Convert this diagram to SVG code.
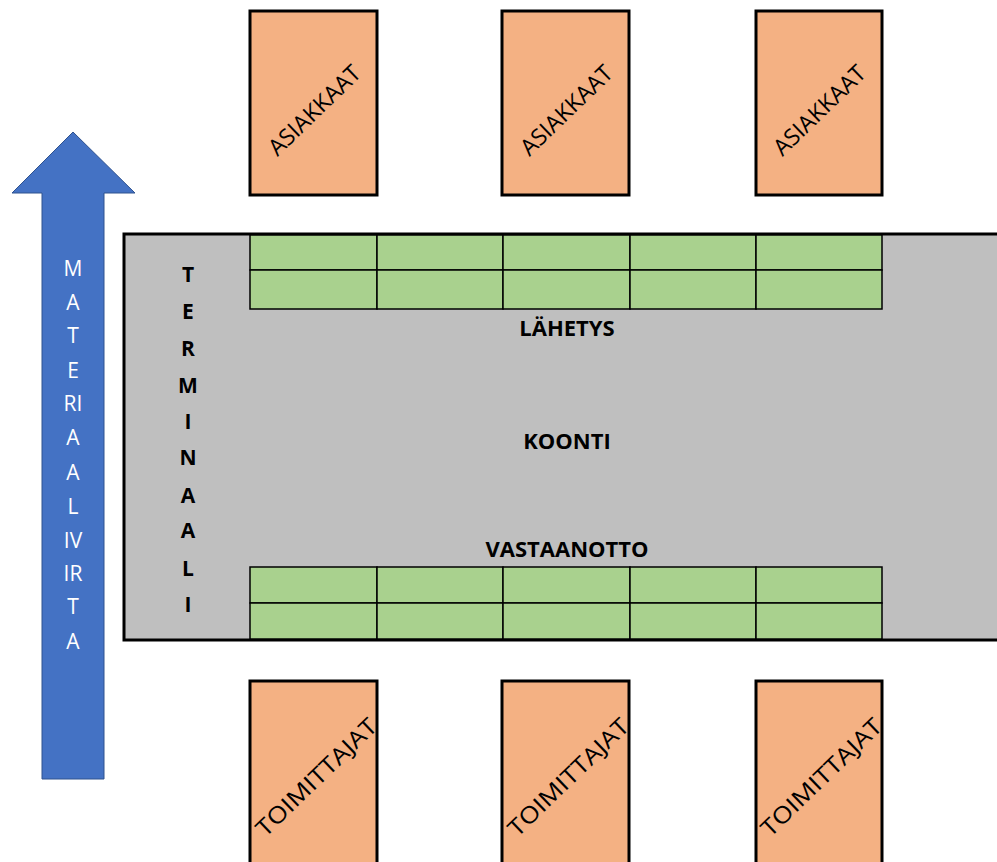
<svg xmlns="http://www.w3.org/2000/svg" width="997" height="862" viewBox="0 0 997 862">
<style>
.box{fill:#F4B183;stroke:#000;stroke-width:3}
.cell{fill:#A9D18E;stroke:#000;stroke-width:1.5}
.rot{font-family:"Open Sans","Liberation Sans",sans-serif;font-size:23px;fill:#000;text-anchor:middle}
.bold{font-family:"Open Sans","Liberation Sans",sans-serif;font-weight:bold;font-size:21px;fill:#000;text-anchor:middle}
.lbl{font-size:22px}
.wt{font-family:"Open Sans","Liberation Sans",sans-serif;font-size:21px;fill:#fff;text-anchor:middle}
</style>
<rect width="997" height="862" fill="#fff"/>
<g id="arrow">
<polygon points="73,132 135,193 104,193 104,779 42,779 42,193 12,193" fill="#4472C4" stroke="#2F528F" stroke-width="1"/>
<text class="wt" x="73" y="276">M</text>
<text class="wt" x="73" y="310">A</text>
<text class="wt" x="73" y="343">T</text>
<text class="wt" x="73" y="378">E</text>
<text class="wt" x="73" y="411">RI</text>
<text class="wt" x="73" y="445">A</text>
<text class="wt" x="73" y="480">A</text>
<text class="wt" x="73" y="514">L</text>
<text class="wt" x="73" y="548">IV</text>
<text class="wt" x="73" y="581">IR</text>
<text class="wt" x="73" y="614">T</text>
<text class="wt" x="73" y="649">A</text>
</g>
<g id="terminal">
<rect x="124" y="234" width="880" height="406" fill="#BFBFBF" stroke="#000" stroke-width="3"/>
<text class="bold" x="188" y="282">T</text>
<text class="bold" x="188" y="319">E</text>
<text class="bold" x="188" y="356">R</text>
<text class="bold" x="188" y="393">M</text>
<text class="bold" x="188" y="429">I</text>
<text class="bold" x="188" y="465">N</text>
<text class="bold" x="188" y="503">A</text>
<text class="bold" x="188" y="538">A</text>
<text class="bold" x="188" y="576">L</text>
<text class="bold" x="188" y="612">I</text>
<text class="bold lbl" x="567" y="336">LÄHETYS</text>
<text class="bold lbl" x="567" y="449">KOONTI</text>
<text class="bold lbl" x="567" y="557">VASTAANOTTO</text>
</g>
<g id="lahetys-grid">
<rect class="cell" x="250" y="235" width="127" height="35"/>
<rect class="cell" x="377" y="235" width="126" height="35"/>
<rect class="cell" x="503" y="235" width="127" height="35"/>
<rect class="cell" x="630" y="235" width="126" height="35"/>
<rect class="cell" x="756" y="235" width="126" height="35"/>
<rect class="cell" x="250" y="270" width="127" height="39"/>
<rect class="cell" x="377" y="270" width="126" height="39"/>
<rect class="cell" x="503" y="270" width="127" height="39"/>
<rect class="cell" x="630" y="270" width="126" height="39"/>
<rect class="cell" x="756" y="270" width="126" height="39"/>
</g>
<g id="vastaanotto-grid">
<rect class="cell" x="250" y="567" width="127" height="36"/>
<rect class="cell" x="377" y="567" width="126" height="36"/>
<rect class="cell" x="503" y="567" width="127" height="36"/>
<rect class="cell" x="630" y="567" width="126" height="36"/>
<rect class="cell" x="756" y="567" width="126" height="36"/>
<rect class="cell" x="250" y="603" width="127" height="36"/>
<rect class="cell" x="377" y="603" width="126" height="36"/>
<rect class="cell" x="503" y="603" width="127" height="36"/>
<rect class="cell" x="630" y="603" width="126" height="36"/>
<rect class="cell" x="756" y="603" width="126" height="36"/>
</g>
<g id="asiakkaat1"><rect class="box" x="250" y="11" width="127" height="184"/><text class="rot" transform="translate(320,116) rotate(-44)">ASIAKKAAT</text></g>
<g id="asiakkaat2"><rect class="box" x="502" y="11" width="127" height="184"/><text class="rot" transform="translate(572,116) rotate(-44)">ASIAKKAAT</text></g>
<g id="asiakkaat3"><rect class="box" x="756" y="11" width="126" height="184"/><text class="rot" transform="translate(825,116) rotate(-44)">ASIAKKAAT</text></g>
<g id="toimittajat1"><rect class="box" x="250" y="681" width="127" height="190"/><text class="rot" transform="translate(322,783) rotate(-44)" textLength="158" lengthAdjust="spacingAndGlyphs">TOIMITTAJAT</text></g>
<g id="toimittajat2"><rect class="box" x="502" y="681" width="127" height="190"/><text class="rot" transform="translate(574,783) rotate(-44)" textLength="158" lengthAdjust="spacingAndGlyphs">TOIMITTAJAT</text></g>
<g id="toimittajat3"><rect class="box" x="756" y="681" width="126" height="190"/><text class="rot" transform="translate(827,783) rotate(-44)" textLength="158" lengthAdjust="spacingAndGlyphs">TOIMITTAJAT</text></g>
<g id="connectors"/>
</svg>
